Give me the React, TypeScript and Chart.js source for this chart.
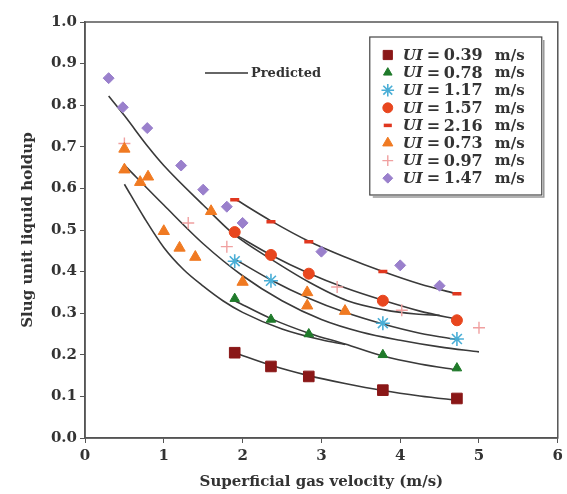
import React, { useEffect, useRef } from "react";
import { Chart, registerables } from "chart.js";
import { drawPoint } from "chart.js/helpers";

Chart.register(...registerables);

// ---------- data ----------
const xTickLabels = ["0", "1", "2", "3", "4", "5", "6"];
const yTickLabels = ["0.0", "0.1", "0.2", "0.3", "0.4", "0.5", "0.6", "0.7", "0.8", "0.9", "1.0"];

const seriesNames = ["0.39", "0.78", "1.17", "1.57", "2.16", "0.73", "0.97", "1.47"];

// measured points
const ul039X = [1.9, 2.36, 2.84, 3.78, 4.72];
const ul039Y = [0.205, 0.172, 0.148, 0.115, 0.095];
const ul078X = [1.9, 2.36, 2.84, 3.78, 4.72];
const ul078Y = [0.335, 0.285, 0.25, 0.2, 0.168];
const ul117X = [1.9, 2.36, 3.78, 4.72];
const ul117Y = [0.425, 0.378, 0.276, 0.238];
const ul157X = [1.9, 2.36, 2.84, 3.78, 4.72];
const ul157Y = [0.495, 0.44, 0.395, 0.33, 0.283];
const ul216X = [1.9, 2.36, 2.84, 3.78, 4.72];
const ul216Y = [0.573, 0.52, 0.472, 0.4, 0.347];
const ul073X = [0.5, 0.5, 0.7, 0.8, 1.0, 1.2, 1.4, 1.6, 2.0, 2.82, 2.82, 3.3];
const ul073Y = [0.695, 0.645, 0.615, 0.628, 0.497, 0.457, 0.435, 0.545, 0.375, 0.35, 0.318, 0.305];
const ul097X = [0.5, 1.31, 1.8, 3.2, 4.02, 5.0];
const ul097Y = [0.708, 0.517, 0.46, 0.363, 0.307, 0.265];
const ul147X = [0.3, 0.48, 0.79, 1.22, 1.5, 1.8, 2.0, 3.0, 4.0, 4.5];
const ul147Y = [0.865, 0.795, 0.745, 0.655, 0.597, 0.556, 0.517, 0.448, 0.415, 0.366];

// predicted curves
const pr039X = [1.9, 2.36, 2.84, 3.3, 3.78, 4.25, 4.75];
const pr039Y = [0.205, 0.175, 0.15, 0.131, 0.114, 0.101, 0.09];
const pr078X = [1.9, 2.36, 2.84, 3.3, 3.78, 4.25, 4.75];
const pr078Y = [0.33, 0.287, 0.252, 0.226, 0.197, 0.178, 0.163];
const pr117X = [1.9, 2.36, 2.84, 3.3, 3.78, 4.25, 4.75];
const pr117Y = [0.43, 0.38, 0.336, 0.302, 0.274, 0.252, 0.236];
const pr157X = [1.9, 2.36, 2.84, 3.3, 3.78, 4.25, 4.75];
const pr157Y = [0.49, 0.44, 0.396, 0.361, 0.331, 0.305, 0.284];
const pr216X = [1.9, 2.36, 2.84, 3.3, 3.78, 4.25, 4.75];
const pr216Y = [0.575, 0.522, 0.473, 0.435, 0.4, 0.37, 0.345];
const pr073X = [0.5, 0.75, 1.0, 1.25, 1.5, 1.75, 2.0, 2.5, 3.0, 3.3];
const pr073Y = [0.61, 0.53, 0.458, 0.405, 0.365, 0.33, 0.302, 0.262, 0.236, 0.225];
const pr097X = [0.5, 1.0, 1.5, 2.0, 2.5, 3.0, 3.5, 4.0, 4.5, 5.0];
const pr097Y = [0.656, 0.56, 0.467, 0.39, 0.33, 0.285, 0.255, 0.235, 0.219, 0.207];
const pr147X = [0.3, 0.5, 0.8, 1.0, 1.5, 1.9, 2.36, 2.84, 3.33, 3.8, 4.2, 4.5];
const pr147Y = [0.822, 0.775, 0.7, 0.655, 0.56, 0.488, 0.43, 0.375, 0.33, 0.308, 0.298, 0.295];

const pts = (xs: number[], ys: number[]) => xs.map((x, i) => ({ x, y: ys[i] }));

const FONT = "'DejaVu Serif', 'Liberation Serif', serif";

const markerStyles = [
  { color: "#8a1717", style: "rect", radius: 7.5, bw: 1 },
  { color: "#1f7a2a", style: "triangle", radius: 5.5, bw: 1 },
  { color: "#4aaed6", style: "star", radius: 7, bw: 1.6 },
  { color: "#e8461e", style: "circle", radius: 5.5, bw: 1 },
  { color: "#e0371f", style: "line", radius: 4.5, bw: 3.5 },
  { color: "#f07a22", style: "triangle", radius: 6.5, bw: 1 },
  { color: "#f0a0a0", style: "cross", radius: 6, bw: 1.4 },
  { color: "#9a80cc", style: "rectRot", radius: 5.5, bw: 1 },
];

const measured = [
  pts(ul039X, ul039Y), pts(ul078X, ul078Y), pts(ul117X, ul117Y), pts(ul157X, ul157Y),
  pts(ul216X, ul216Y), pts(ul073X, ul073Y), pts(ul097X, ul097Y), pts(ul147X, ul147Y),
];
const predicted = [
  pts(pr039X, pr039Y), pts(pr078X, pr078Y), pts(pr117X, pr117Y), pts(pr157X, pr157Y),
  pts(pr216X, pr216Y), pts(pr073X, pr073Y), pts(pr097X, pr097Y), pts(pr147X, pr147Y),
];

const overlayPlugin = {
  id: "overlay",
  afterDraw(chart: any) {
    const ctx = chart.ctx;
    const a = chart.chartArea;
    ctx.save();
    // frame
    ctx.strokeStyle = "#555";
    ctx.lineWidth = 1.5;
    ctx.strokeRect(a.left, a.top, a.right - a.left, a.bottom - a.top);

    // "Predicted" key
    const py = a.top + 51;
    ctx.strokeStyle = "#333";
    ctx.lineWidth = 1.6;
    ctx.beginPath();
    ctx.moveTo(a.left + 120, py);
    ctx.lineTo(a.left + 163, py);
    ctx.stroke();
    ctx.fillStyle = "#333";
    ctx.font = `bold 13px ${FONT}`;
    ctx.textBaseline = "middle";
    ctx.textAlign = "left";
    ctx.fillText("Predicted", a.left + 166, py + 1);

    // legend box
    const bx = a.right - 188;
    const by = a.top + 15;
    const bw = 172;
    const bh = 158;
    ctx.fillStyle = "#fff";
    ctx.fillRect(bx, by, bw, bh);
    ctx.strokeStyle = "#999";
    ctx.lineWidth = 1.5;
    ctx.beginPath();
    ctx.moveTo(bx + 3, by + bh + 2);
    ctx.lineTo(bx + bw + 2, by + bh + 2);
    ctx.lineTo(bx + bw + 2, by + 3);
    ctx.stroke();
    ctx.strokeStyle = "#444";
    ctx.lineWidth = 1.2;
    ctx.strokeRect(bx, by, bw, bh);

    for (let i = 0; i < seriesNames.length; i++) {
      const m = markerStyles[i];
      const y = by + 18 + i * 17.6;
      ctx.fillStyle = m.color;
      ctx.strokeStyle = m.color;
      ctx.lineWidth = m.bw;
      const r = m.style === "rect" ? 6.5 : m.radius * 0.9;
      drawPoint(ctx, { pointStyle: m.style, radius: r, rotation: 0, borderWidth: m.bw }, bx + 18, y);
      ctx.fillStyle = "#333";
      ctx.font = `italic bold 15px ${FONT}`;
      ctx.fillText("UI", bx + 33, y + 1);
      ctx.font = `bold 16px ${FONT}`;
      ctx.fillText("=", bx + 57, y + 1);
      ctx.fillText(seriesNames[i], bx + 74, y + 1);
      ctx.font = `bold 15px ${FONT}`;
      ctx.fillText("m/s", bx + 125, y + 1);
    }
    ctx.restore();
  },
};

export default function App() {
  const ref = useRef<HTMLCanvasElement | null>(null);
  useEffect(() => {
    if (!ref.current) return;
    const datasets: any[] = [];
    predicted.forEach((d, i) => {
      datasets.push({
        label: "pred " + seriesNames[i],
        data: d,
        showLine: true,
        borderColor: "#3a3a3a",
        borderWidth: 1.6,
        pointRadius: 0,
        fill: false,
        cubicInterpolationMode: "monotone",
        order: 2,
      });
    });
    measured.forEach((d, i) => {
      const m = markerStyles[i];
      datasets.push({
        label: "UI = " + seriesNames[i] + " m/s",
        data: d,
        showLine: false,
        pointStyle: m.style,
        pointRadius: m.radius,
        pointBackgroundColor: m.color,
        pointBorderColor: m.color,
        pointBorderWidth: m.bw,
        order: 1,
      });
    });

    const tickFont = { family: FONT, size: 15, weight: "bold" as const };
    const chart = new Chart(ref.current, {
      type: "scatter",
      data: { datasets },
      plugins: [overlayPlugin],
      options: {
        animation: false,
        responsive: true,
        maintainAspectRatio: false,
        layout: { padding: { left: 0, right: 5, top: 22, bottom: 0 } },
        plugins: { legend: { display: false }, tooltip: { enabled: false } },
        scales: {
          x: {
            type: "linear",
            min: 0,
            max: 6,
            ticks: {
              stepSize: 1,
              font: tickFont,
              color: "#333",
              padding: 4,
              callback: (v: any) => xTickLabels[Math.round(Number(v))] ?? "",
            },
            grid: { display: true, drawOnChartArea: false, drawTicks: true, tickLength: 5, color: "#555" },
            border: { display: true, color: "#555", width: 1.5 },
            title: {
              display: true,
              text: "Superficial gas velocity (m/s)",
              font: { family: FONT, size: 15, weight: "bold" },
              color: "#333",
              padding: { top: 0, bottom: 3 },
            },
            afterFit: (s: any) => {
              s.height = 56;
            },
          },
          y: {
            type: "linear",
            min: 0,
            max: 1,
            ticks: {
              stepSize: 0.1,
              font: tickFont,
              color: "#333",
              padding: 3,
              callback: (v: any) => yTickLabels[Math.round(Number(v) * 10)] ?? "",
            },
            grid: { display: true, drawOnChartArea: false, drawTicks: true, tickLength: 5, color: "#555" },
            border: { display: true, color: "#555", width: 1.5 },
            title: {
              display: true,
              text: "Slug unit liquid holdup",
              font: { family: FONT, size: 15, weight: "bold" },
              color: "#333",
              padding: { top: 19, bottom: 0 },
            },
            afterFit: (s: any) => {
              s.width = 85;
            },
          },
        },
      },
    });
    return () => chart.destroy();
  }, []);

  return (
    <div style={{ position: "absolute", left: 0, top: 0, width: 567, height: 494, background: "#fff" }}>
      <canvas ref={ref} />
    </div>
  );
}
